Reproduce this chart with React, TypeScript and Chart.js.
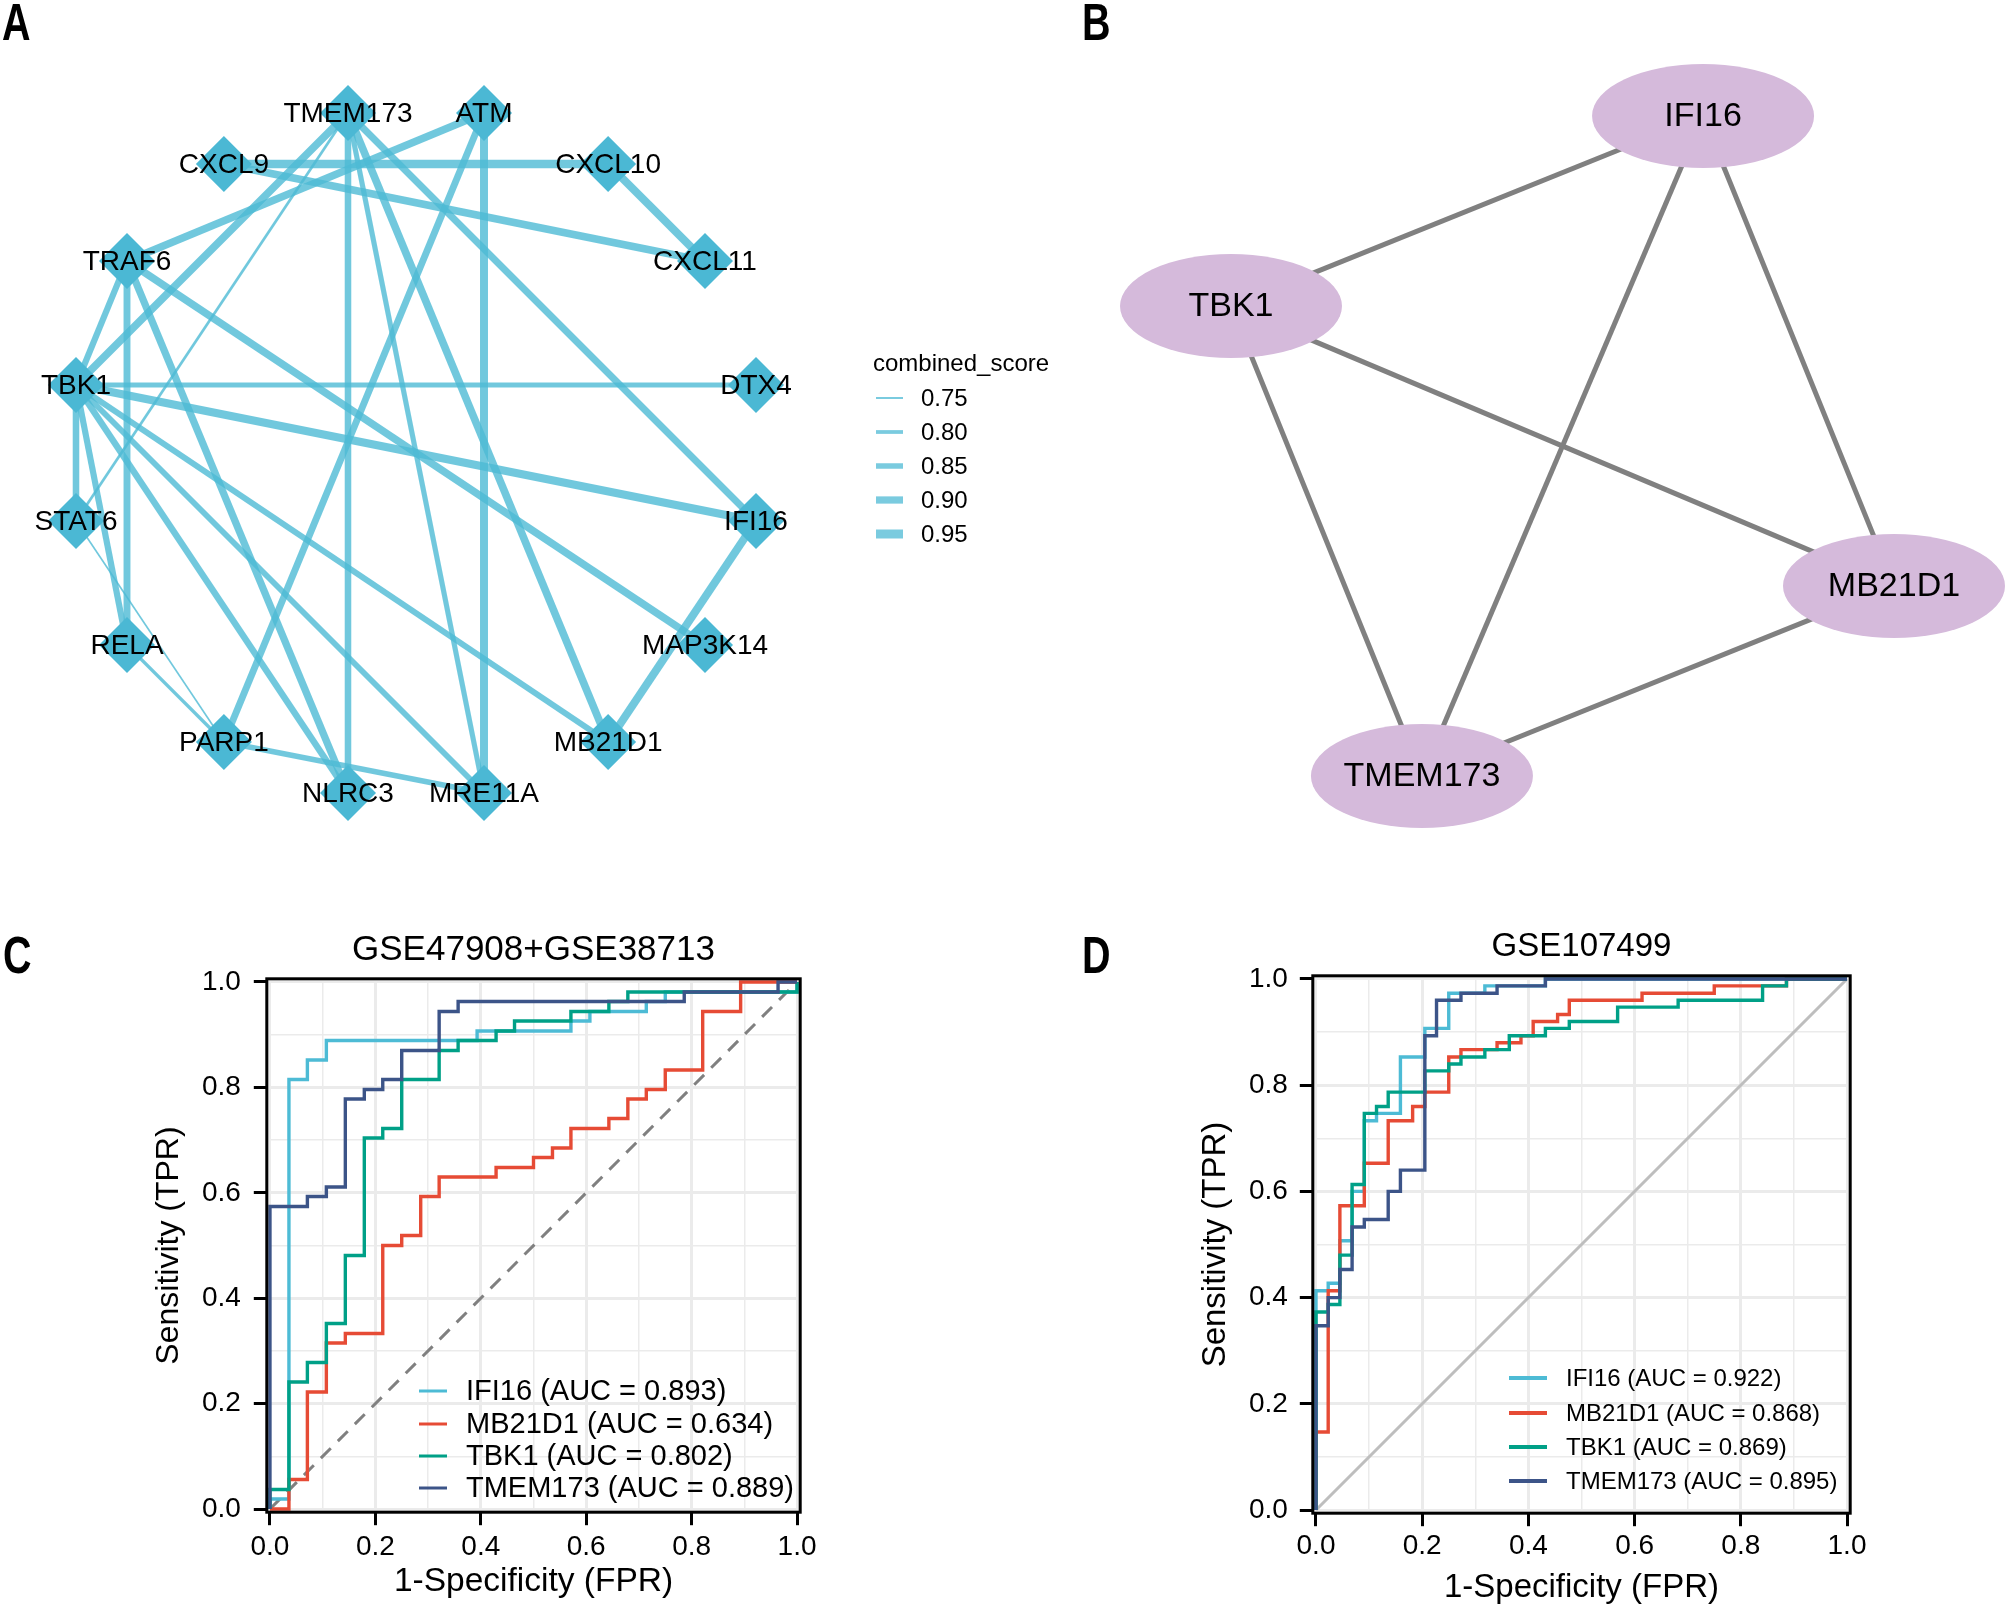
import React, { useEffect, useRef } from 'react';
import { Chart, registerables } from 'chart.js';

Chart.register(...registerables);

const FONT = "'Liberation Sans', Arial, Helvetica, sans-serif";
Chart.defaults.font.family = FONT;
Chart.defaults.color = '#000';

// ---------------- Panel A : PPI network (circle layout) ----------------
const netNodes = ['TMEM173', 'ATM', 'CXCL9', 'CXCL10', 'TRAF6', 'CXCL11', 'TBK1', 'DTX4', 'STAT6', 'IFI16', 'RELA', 'MAP3K14', 'PARP1', 'MB21D1', 'NLRC3', 'MRE11A'];
const netNodeX = [-0.2, 0.2, -0.565, 0.565, -0.85, 0.85, -1, 1, -1, 1, -0.85, 0.85, -0.565, 0.565, -0.2, 0.2];
const netNodeY = [1, 1, 0.85, 0.85, 0.565, 0.565, 0.2, 0.2, -0.2, -0.2, -0.565, -0.565, -0.85, -0.85, -1, -1];
const netEdgeFrom = ['TMEM173', 'TMEM173', 'TMEM173', 'TMEM173', 'TMEM173', 'TMEM173', 'ATM', 'ATM', 'ATM', 'CXCL9', 'CXCL9', 'CXCL10', 'TRAF6', 'TRAF6', 'TRAF6', 'TRAF6', 'TBK1', 'TBK1', 'TBK1', 'TBK1', 'TBK1', 'TBK1', 'TBK1', 'STAT6', 'RELA', 'PARP1', 'IFI16'];
const netEdgeTo = ['TBK1', 'NLRC3', 'MRE11A', 'MB21D1', 'IFI16', 'STAT6', 'TRAF6', 'MRE11A', 'PARP1', 'CXCL10', 'CXCL11', 'CXCL11', 'TBK1', 'RELA', 'NLRC3', 'MAP3K14', 'DTX4', 'IFI16', 'STAT6', 'RELA', 'NLRC3', 'MRE11A', 'MB21D1', 'PARP1', 'PARP1', 'MRE11A', 'MB21D1'];
const netEdgeScore = [0.91, 0.88, 0.84, 0.91, 0.89, 0.77, 0.91, 0.92, 0.89, 0.93, 0.91, 0.92, 0.87, 0.89, 0.9, 0.91, 0.84, 0.92, 0.88, 0.87, 0.88, 0.86, 0.86, 0.74, 0.79, 0.85, 0.92];
const scoreLegend = [0.75, 0.8, 0.85, 0.9, 0.95];

// ---------------- Panel B : hub genes network ----------------
const ppiNodes = ['IFI16', 'TBK1', 'MB21D1', 'TMEM173'];
const ppiX = [0.712, 0, 1, 0.288];
const ppiY = [1, 0.712, 0.288, 0];
const ppiFrom = ['TBK1', 'TBK1', 'TBK1', 'IFI16', 'IFI16', 'MB21D1'];
const ppiTo = ['IFI16', 'MB21D1', 'TMEM173', 'TMEM173', 'MB21D1', 'TMEM173'];

// ---------------- Panels C / D : ROC curves ----------------
const rocGenes = ['IFI16', 'MB21D1', 'TBK1', 'TMEM173'];
const rocColors = ['#4DBBD5', '#E64B35', '#00A087', '#3C5488'];
const aucC = [0.893, 0.634, 0.802, 0.889];
const aucD = [0.922, 0.868, 0.869, 0.895];
const axisTicks = [0, 0.2, 0.4, 0.6, 0.8, 1.0];

const rocC_IFI16_fpr = [0, 0, 0.036, 0.071, 0.107, 0.393, 0.571, 0.607, 0.714, 0.75, 1.0];
const rocC_IFI16_tpr = [0, 0.019, 0.815, 0.852, 0.889, 0.907, 0.926, 0.944, 0.963, 0.981, 1.0];
const rocC_MB21D1_fpr = [0, 0.036, 0.071, 0.107, 0.143, 0.214, 0.25, 0.286, 0.321, 0.429, 0.5, 0.536, 0.571, 0.643, 0.679, 0.714, 0.75, 0.821, 0.893, 1.0];
const rocC_MB21D1_tpr = [0, 0.056, 0.222, 0.315, 0.333, 0.5, 0.519, 0.593, 0.63, 0.648, 0.667, 0.685, 0.722, 0.741, 0.778, 0.796, 0.833, 0.944, 1.0, 1.0];
const rocC_TBK1_fpr = [0, 0, 0.036, 0.071, 0.107, 0.143, 0.179, 0.214, 0.25, 0.321, 0.357, 0.429, 0.464, 0.571, 0.643, 0.679, 1.0];
const rocC_TBK1_tpr = [0, 0.037, 0.241, 0.278, 0.352, 0.481, 0.704, 0.722, 0.815, 0.87, 0.889, 0.907, 0.926, 0.944, 0.963, 0.981, 1.0];
const rocC_TMEM173_fpr = [0, 0, 0.071, 0.107, 0.143, 0.179, 0.214, 0.25, 0.321, 0.357, 0.786, 0.964, 1.0];
const rocC_TMEM173_tpr = [0, 0.574, 0.593, 0.611, 0.778, 0.796, 0.815, 0.87, 0.944, 0.963, 0.981, 1.0, 1.0];

const rocD_IFI16_fpr = [0, 0, 0.023, 0.045, 0.068, 0.091, 0.114, 0.159, 0.205, 0.25, 0.318, 0.432, 1.0];
const rocD_IFI16_tpr = [0, 0.413, 0.427, 0.507, 0.6, 0.733, 0.747, 0.853, 0.907, 0.973, 0.987, 1.0, 1.0];
const rocD_MB21D1_fpr = [0, 0, 0.023, 0.045, 0.091, 0.136, 0.182, 0.205, 0.25, 0.273, 0.341, 0.386, 0.409, 0.455, 0.477, 0.614, 0.75, 0.886, 1.0];
const rocD_MB21D1_tpr = [0, 0.147, 0.413, 0.573, 0.653, 0.733, 0.76, 0.787, 0.853, 0.867, 0.88, 0.893, 0.92, 0.933, 0.96, 0.973, 0.987, 1.0, 1.0];
const rocD_TBK1_fpr = [0, 0, 0.023, 0.045, 0.068, 0.091, 0.114, 0.136, 0.205, 0.25, 0.273, 0.318, 0.364, 0.432, 0.477, 0.568, 0.682, 0.841, 0.886, 1.0];
const rocD_TBK1_tpr = [0, 0.373, 0.387, 0.48, 0.613, 0.747, 0.76, 0.787, 0.827, 0.84, 0.853, 0.867, 0.893, 0.907, 0.92, 0.947, 0.96, 0.987, 1.0, 1.0];
const rocD_TMEM173_fpr = [0, 0, 0.023, 0.045, 0.068, 0.091, 0.136, 0.159, 0.205, 0.227, 0.273, 0.341, 0.432, 1.0];
const rocD_TMEM173_tpr = [0, 0.347, 0.4, 0.453, 0.533, 0.547, 0.6, 0.64, 0.893, 0.96, 0.973, 0.987, 1.0, 1.0];

const rocC_fpr = [rocC_IFI16_fpr, rocC_MB21D1_fpr, rocC_TBK1_fpr, rocC_TMEM173_fpr];
const rocC_tpr = [rocC_IFI16_tpr, rocC_MB21D1_tpr, rocC_TBK1_tpr, rocC_TMEM173_tpr];
const rocD_fpr = [rocD_IFI16_fpr, rocD_MB21D1_fpr, rocD_TBK1_fpr, rocD_TMEM173_fpr];
const rocD_tpr = [rocD_IFI16_tpr, rocD_MB21D1_tpr, rocD_TBK1_tpr, rocD_TMEM173_tpr];

// ---------------- styles ----------------
const NODE_COLOR = '#4BB8D4';
const EDGE_COLOR = 'rgba(78,186,212,0.8)';
const edgeWidth = (s: number) => 2 + (s - 0.75) * 35;

const netLabelPlugin = {
  id: 'netLabels',
  afterDatasetsDraw(chart: any) {
    const ctx = chart.ctx;
    const meta = chart.getDatasetMeta(0);
    ctx.save();
    ctx.font = `28px ${FONT}`;
    ctx.fillStyle = '#000';
    ctx.textAlign = 'center';
    ctx.textBaseline = 'middle';
    meta.data.forEach((el: any, i: number) => ctx.fillText(netNodes[i], el.x, el.y + 1));
    // edge-width legend
    ctx.textAlign = 'left';
    ctx.font = `24px ${FONT}`;
    ctx.fillText('combined_score', 873, 364);
    scoreLegend.forEach((s, i) => {
      const y = 398 + i * 34;
      ctx.strokeStyle = 'rgba(78,186,212,0.75)';
      ctx.lineWidth = edgeWidth(s);
      ctx.beginPath();
      ctx.moveTo(876, y);
      ctx.lineTo(903, y);
      ctx.stroke();
      ctx.fillStyle = '#000';
      ctx.fillText(s.toFixed(2), 921, y + 1);
    });
    ctx.restore();
  },
};

function makeNetworkConfig(): any {
  const idx = (n: string) => netNodes.indexOf(n);
  const edges = netEdgeFrom.map((f, i) => {
    const a = idx(f);
    const b = idx(netEdgeTo[i]);
    return {
      label: '',
      data: [{ x: netNodeX[a], y: netNodeY[a] }, { x: netNodeX[b], y: netNodeY[b] }],
      showLine: true,
      borderColor: EDGE_COLOR,
      borderWidth: edgeWidth(netEdgeScore[i]),
      pointRadius: 0,
      clip: false,
      order: 1,
    };
  });
  const nodes = {
    label: 'nodes',
    data: netNodes.map((_, i) => ({ x: netNodeX[i], y: netNodeY[i] })),
    pointStyle: 'rectRot',
    pointRadius: 28,
    pointHoverRadius: 28,
    backgroundColor: NODE_COLOR,
    borderWidth: 0,
    showLine: false,
    clip: false,
    order: 0,
  };
  return {
    type: 'scatter',
    data: { datasets: [nodes, ...edges] },
    options: {
      animation: false,
      responsive: false,
      events: [],
      layout: { padding: { left: 76, right: 294, top: 113, bottom: 87 } },
      plugins: { legend: { display: false }, tooltip: { enabled: false } },
      scales: {
        x: { type: 'linear', display: false, min: -1, max: 1 },
        y: { type: 'linear', display: false, min: -1, max: 1 },
      },
    },
    plugins: [netLabelPlugin],
  };
}

const ppiPlugin = {
  id: 'ppiNodes',
  afterDatasetsDraw(chart: any) {
    const ctx = chart.ctx;
    const meta = chart.getDatasetMeta(0);
    ctx.save();
    meta.data.forEach((el: any, i: number) => {
      ctx.fillStyle = '#D5BADB';
      ctx.beginPath();
      ctx.ellipse(el.x, el.y, 111, 52, 0, 0, Math.PI * 2);
      ctx.fill();
      ctx.fillStyle = '#000';
      ctx.font = `34px ${FONT}`;
      ctx.textAlign = 'center';
      ctx.textBaseline = 'middle';
      ctx.fillText(ppiNodes[i], el.x, el.y + 1);
    });
    ctx.restore();
  },
};

function makePpiConfig(): any {
  const idx = (n: string) => ppiNodes.indexOf(n);
  const edges = ppiFrom.map((f, i) => {
    const a = idx(f);
    const b = idx(ppiTo[i]);
    return {
      label: '',
      data: [{ x: ppiX[a], y: ppiY[a] }, { x: ppiX[b], y: ppiY[b] }],
      showLine: true,
      borderColor: '#808080',
      borderWidth: 5,
      pointRadius: 0,
      clip: false,
      order: 1,
    };
  });
  const nodes = {
    label: 'nodes',
    data: ppiNodes.map((_, i) => ({ x: ppiX[i], y: ppiY[i] })),
    pointRadius: 0,
    showLine: false,
    clip: false,
    order: 0,
  };
  return {
    type: 'scatter',
    data: { datasets: [nodes, ...edges] },
    options: {
      animation: false,
      responsive: false,
      events: [],
      layout: { padding: { left: 181, right: 113, top: 116, bottom: 104 } },
      plugins: { legend: { display: false }, tooltip: { enabled: false } },
      scales: {
        x: { type: 'linear', display: false, min: 0, max: 1 },
        y: { type: 'linear', display: false, min: 0, max: 1 },
      },
    },
    plugins: [ppiPlugin],
  };
}

interface RocParams {
  title: string;
  titleSize: number;
  fpr: number[][];
  tpr: number[][];
  auc: number[];
  diagColor: string;
  diagDash: number[];
  canvasW: number;
  canvasH: number;
  padLeft: number;
  padRight: number;
  yWidth: number;
  xHeight: number;
  titlePadTop: number;
  titlePadBottom: number;
  xTitleSize: number;
  yTitleSize: number;
  yTitlePad: number;
  xTitlePad: number;
  yTickPad: number;
  xTickPad: number;
  legendX0: number;
  legendX1: number;
  legendTextX: number;
  legendY: number[];
  legendFont: number;
  legendLine: number;
  curveWidth: number;
}

const isMajor = (v: number) => Math.abs(Math.round(v * 10)) % 2 === 0;

function makeRocConfig(p: RocParams): any {
  const curves = rocGenes.map((g, i) => ({
    label: `${g} (AUC = ${p.auc[i].toFixed(3)})`,
    data: p.fpr[i].map((x, j) => ({ x, y: p.tpr[i][j] })),
    borderColor: rocColors[i],
    backgroundColor: rocColors[i],
    borderWidth: p.curveWidth,
    stepped: 'before',
    pointRadius: 0,
    fill: false,
    tension: 0,
    order: rocGenes.length - i,
  }));
  const diag = {
    label: '',
    data: [{ x: 0, y: 0 }, { x: 1, y: 1 }],
    borderColor: p.diagColor,
    borderDash: p.diagDash,
    borderWidth: 3,
    pointRadius: 0,
    fill: false,
    order: 10,
  };
  const boxAndLegend = {
    id: 'boxLegend',
    afterDatasetsDraw(chart: any) {
      const ctx = chart.ctx;
      const a = chart.chartArea;
      ctx.save();
      ctx.strokeStyle = '#000';
      ctx.lineWidth = 3;
      ctx.strokeRect(a.left, a.top, a.right - a.left, a.bottom - a.top);
      const items = chart.data.datasets.filter((d: any) => d.label);
      ctx.font = `${p.legendFont}px ${FONT}`;
      ctx.textAlign = 'left';
      ctx.textBaseline = 'middle';
      items.forEach((d: any, i: number) => {
        const y = p.legendY[i];
        ctx.strokeStyle = d.borderColor;
        ctx.lineWidth = p.legendLine;
        ctx.beginPath();
        ctx.moveTo(p.legendX0, y);
        ctx.lineTo(p.legendX1, y);
        ctx.stroke();
        ctx.fillStyle = '#000';
        ctx.fillText(d.label, p.legendTextX, y + 1);
      });
      ctx.restore();
    },
  };
  const grid = {
    color: '#EBEBEB',
    lineWidth: (c: any) => (c.tick && !isMajor(c.tick.value) ? 1.5 : 3),
    tickColor: (c: any) => (c.tick && !isMajor(c.tick.value) ? 'rgba(0,0,0,0)' : '#000'),
    tickWidth: 3,
    tickLength: 13,
    drawTicks: true,
  };
  const tickCallback = (v: any) => {
    const n = Number(v);
    const hit = axisTicks.find((t) => Math.abs(t - n) < 1e-6);
    return hit !== undefined ? hit.toFixed(1) : '';
  };
  return {
    type: 'line',
    data: { datasets: [...curves, diag] },
    options: {
      animation: false,
      responsive: false,
      events: [],
      layout: { padding: { left: p.padLeft, right: p.padRight, top: 0, bottom: 0 } },
      plugins: {
        legend: { display: false },
        tooltip: { enabled: false },
        title: {
          display: true,
          text: p.title,
          fullSize: false,
          color: '#000',
          font: { size: p.titleSize, weight: 'normal', family: FONT },
          padding: { top: p.titlePadTop, bottom: p.titlePadBottom },
        },
      },
      scales: {
        x: {
          type: 'linear',
          min: -0.006,
          max: 1.006,
          afterFit: (s: any) => { s.height = p.xHeight; },
          border: { display: false },
          grid,
          ticks: {
            stepSize: 0.1,
            includeBounds: false,
            autoSkip: false,
            maxRotation: 0,
            minRotation: 0,
            padding: p.xTickPad,
            color: '#000',
            font: { size: 28, family: FONT },
            callback: tickCallback,
          },
          title: {
            display: true,
            text: '1-Specificity (FPR)',
            color: '#000',
            font: { size: p.xTitleSize, family: FONT },
            padding: { top: 0, bottom: p.xTitlePad },
          },
        },
        y: {
          type: 'linear',
          min: -0.006,
          max: 1.006,
          afterFit: (s: any) => { s.width = p.yWidth; },
          border: { display: false },
          grid,
          ticks: {
            stepSize: 0.1,
            includeBounds: false,
            autoSkip: false,
            padding: p.yTickPad,
            color: '#000',
            font: { size: 28, family: FONT },
            callback: tickCallback,
          },
          title: {
            display: true,
            text: 'Sensitivity (TPR)',
            color: '#000',
            font: { size: p.yTitleSize, family: FONT },
            padding: { top: p.yTitlePad, bottom: 0 },
          },
        },
      },
    },
    plugins: [boxAndLegend],
  };
}

const paramsC: RocParams = {
  title: 'GSE47908+GSE38713',
  titleSize: 35,
  fpr: rocC_fpr,
  tpr: rocC_tpr,
  auc: aucC,
  diagColor: '#808080',
  diagDash: [14, 10],
  canvasW: 1000,
  canvasH: 708,
  padLeft: 140,
  padRight: 199.8,
  yWidth: 126.8,
  xHeight: 95.8,
  titlePadTop: 29,
  titlePadBottom: 7.8,
  xTitleSize: 33.5,
  yTitleSize: 32,
  yTitlePad: 9.8,
  xTitlePad: 5.9,
  yTickPad: 13,
  xTickPad: 5,
  legendX0: 419,
  legendX1: 447,
  legendTextX: 466,
  legendY: [491, 524, 556, 588],
  legendFont: 29,
  legendLine: 3,
  curveWidth: 3.4,
};

const paramsD: RocParams = {
  title: 'GSE107499',
  titleSize: 33,
  fpr: rocD_fpr,
  tpr: rocD_tpr,
  auc: aucD,
  diagColor: '#BEBEBE',
  diagDash: [],
  canvasW: 1007,
  canvasH: 708,
  padLeft: 180,
  padRight: 156.8,
  yWidth: 132.8,
  xHeight: 94.8,
  titlePadTop: 27.2,
  titlePadBottom: 9.0,
  xTitleSize: 33,
  yTitleSize: 33,
  yTitlePad: 16.2,
  xTitlePad: 0.2,
  yTickPad: 12,
  xTickPad: 3,
  legendX0: 509,
  legendX1: 547,
  legendTextX: 566,
  legendY: [478, 513, 547, 581],
  legendFont: 24,
  legendLine: 4,
  curveWidth: 3.4,
};

function ChartCanvas(props: { left: number; top: number; width: number; height: number; make: () => any }) {
  const ref = useRef<HTMLCanvasElement>(null);
  useEffect(() => {
    const chart = new Chart(ref.current as HTMLCanvasElement, props.make());
    return () => chart.destroy();
  }, []);
  return (
    <canvas
      ref={ref}
      width={props.width}
      height={props.height}
      style={{ position: 'absolute', left: props.left, top: props.top, width: props.width, height: props.height }}
    />
  );
}

const letterStyle = (left: number, top: number): React.CSSProperties => ({
  position: 'absolute',
  left,
  top,
  font: "bold 52px 'Liberation Sans', Arial, sans-serif",
  lineHeight: '52px',
  color: '#000',
  transform: 'scaleX(0.76)',
  transformOrigin: '0 0',
});

export default function App() {
  return (
    <div style={{ position: 'absolute', left: 0, top: 0, width: 2007, height: 1608, background: '#fff', overflow: 'hidden' }}>
      <ChartCanvas left={0} top={0} width={1050} height={880} make={makeNetworkConfig} />
      <ChartCanvas left={1050} top={0} width={957} height={880} make={makePpiConfig} />
      <ChartCanvas left={0} top={900} width={paramsC.canvasW} height={paramsC.canvasH} make={() => makeRocConfig(paramsC)} />
      <ChartCanvas left={1000} top={900} width={paramsD.canvasW} height={paramsD.canvasH} make={() => makeRocConfig(paramsD)} />
      <div style={letterStyle(2, -4)}>A</div>
      <div style={letterStyle(1082, -4)}>B</div>
      <div style={letterStyle(3, 929)}>C</div>
      <div style={letterStyle(1082, 929)}>D</div>
    </div>
  );
}
